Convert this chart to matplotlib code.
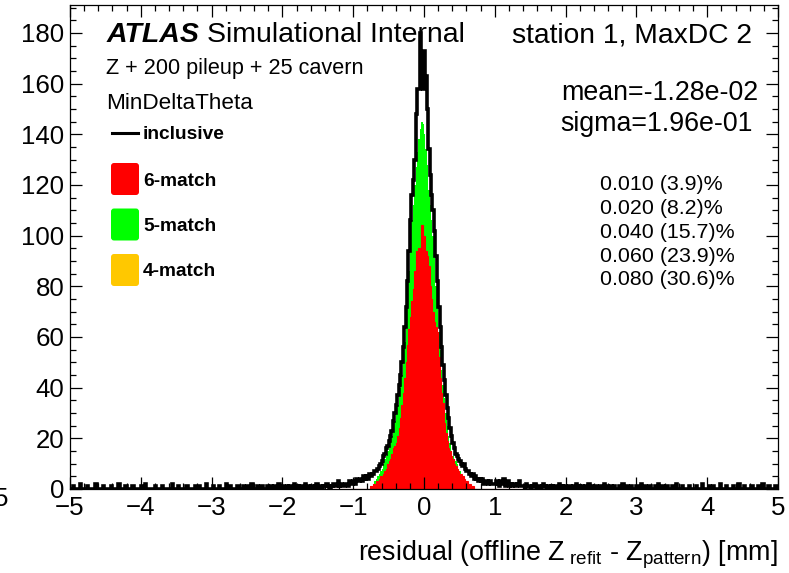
import numpy as np
import matplotlib as mpl
import matplotlib.pyplot as plt
from matplotlib.patches import FancyBboxPatch
from matplotlib.lines import Line2D
from matplotlib.ticker import MultipleLocator

mpl.use("Agg")

W, H = 789, 573  # output size in pixels (dpi 100)

RED = "#ff0000"
GREEN = "#00ff00"
ORANGE = "#ffc800"

# bin edges: 0.02 mm bins over [-5, 5], core region [-1, 1]
edges_full = np.linspace(-5.0, 5.0, 501)
edges_core = np.linspace(-1.0, 1.0, 101)

# inclusive counts, tails (-5..-1) and (1..5)
incl_left_tail = [
    0, 0, 1, 0, 0, 0, 0, 2, 0, 0, 0, 0, 1, 0, 0, 0, 0, 0, 2, 0,
    0, 0, 0, 1, 0, 0, 0, 0, 0, 1, 0, 0, 0, 0, 2, 0, 0, 0, 0, 1,
    0, 0, 0, 0, 1, 0, 0, 0, 0, 0, 1, 0, 0, 2, 0, 0, 0, 0, 0, 0,
    1, 0, 0, 0, 0, 1, 0, 0, 0, 0, 0, 0, 2, 0, 0, 0, 1, 0, 0, 0,
    0, 0, 1, 0, 0, 0, 0, 0, 1, 0, 0, 1, 0, 0, 0, 0, 2, 0, 0, 0,
    0, 1, 0, 0, 0, 1, 0, 0, 0, 0, 2, 0, 0, 1, 0, 0, 0, 0, 1, 0,
    0, 0, 1, 0, 0, 1, 0, 0, 2, 0, 0, 0, 1, 0, 0, 1, 0, 0, 0, 1,
    0, 0, 1, 0, 1, 0, 0, 2, 0, 0, 1, 0, 0, 1, 0, 1, 0, 0, 2, 1,
    0, 1, 0, 1, 1, 0, 2, 0, 1, 0, 1, 1, 0, 1, 2, 0, 1, 1, 0, 1,
    1, 2, 1, 0, 1, 1, 2, 1, 1, 3, 1, 2, 1, 1, 2, 2, 1, 3, 2, 2,
]
incl_right_tail = [
    2, 3, 2, 1, 3, 2, 4, 1, 2, 3, 1, 2, 1, 2, 1, 1, 2, 3, 1, 1,
    1, 0, 2, 1, 1, 0, 1, 1, 2, 0, 1, 1, 0, 1, 2, 1, 0, 1, 1, 0,
    1, 0, 1, 1, 0, 2, 0, 1, 0, 1, 0, 0, 1, 1, 0, 1, 0, 2, 0, 1,
    0, 1, 0, 0, 1, 0, 2, 0, 1, 0, 0, 1, 0, 0, 1, 0, 0, 2, 0, 1,
    0, 0, 1, 0, 1, 0, 0, 0, 1, 0, 2, 0, 0, 1, 0, 0, 1, 0, 0, 0,
    1, 0, 0, 2, 0, 0, 1, 0, 0, 1, 0, 0, 0, 1, 0, 2, 0, 0, 1, 0,
    0, 1, 0, 0, 0, 1, 0, 0, 2, 0, 0, 0, 1, 0, 0, 0, 0, 1, 0, 0,
    0, 0, 1, 0, 0, 0, 2, 0, 0, 0, 0, 1, 0, 0, 1, 0, 0, 0, 0, 2,
    0, 0, 0, 1, 0, 0, 0, 0, 1, 0, 0, 0, 2, 0, 0, 0, 1, 0, 0, 0,
    0, 1, 0, 0, 0, 0, 1, 0, 0, 2, 0, 0, 0, 1, 0, 0, 0, 0, 1, 0,
]
# inclusive counts in [-1, 1]
incl_core = [
    3, 2, 4, 3, 3, 4, 3, 5, 4, 5,
    4, 6, 5, 6, 6, 7, 7, 8, 9, 10,
    11, 13, 14, 16, 17, 19, 21, 23, 27, 30,
    33, 37, 41, 45, 50, 56, 64, 72, 82, 94,
    106, 116, 122, 130, 148, 158, 158, 180, 160, 158,
    173, 163, 150, 134, 124, 116, 110, 102, 92, 82,
    72, 64, 56, 49, 43, 37, 32, 28, 24, 21,
    18, 16, 14, 13, 12, 11, 10, 9, 10, 8,
    7, 7, 6, 5, 6, 4, 5, 4, 3, 4,
    3, 4, 2, 3, 3, 2, 3, 2, 2, 2,
]
# 6-match counts in [-1, 1]
match6_core = [
    0, 0, 0, 0, 0, 0, 0, 0, 0, 0,
    0, 0, 1, 1, 2, 2, 3, 3, 4, 5,
    5, 6, 7, 8, 10, 11, 12, 14, 16, 17,
    18, 21, 24, 28, 33, 38, 44, 50, 57, 63,
    68, 74, 79, 86, 94, 93, 95, 92, 104, 96,
    100, 94, 92, 88, 80, 75, 70, 66, 64, 62,
    52, 44, 38, 34, 26, 22, 19, 16, 15, 13,
    12, 10, 9, 8, 7, 6, 6, 5, 4, 3,
    3, 2, 2, 1, 1, 0, 0, 0, 0, 0,
    0, 0, 0, 0, 0, 0, 0, 0, 0, 0,
]
# 5-match counts in [-1, 1]
match5_core = [
    0, 0, 0, 0, 0, 0, 0, 0, 0, 0,
    0, 0, 0, 0, 0, 1, 1, 2, 2, 2,
    3, 4, 5, 5, 5, 6, 7, 7, 8, 10,
    12, 12, 13, 12, 12, 13, 14, 16, 18, 23,
    30, 32, 33, 34, 33, 40, 43, 50, 41, 48,
    40, 40, 36, 30, 32, 31, 30, 26, 16, 10,
    10, 11, 9, 7, 10, 8, 6, 5, 3, 2,
    1, 2, 2, 2, 1, 1, 0, 0, 0, 0,
    0, 0, 0, 0, 0, 0, 0, 0, 0, 0,
    0, 0, 0, 0, 0, 0, 0, 0, 0, 0,
]

header = "station 1, MaxDC 2"
sample_text = "Z + 200 pileup + 25 cavern"
method_text = "MinDeltaTheta"
fit_mean = "-1.28e-02"
fit_sigma = "1.96e-01"
window_cuts = ["0.010", "0.020", "0.040", "0.060", "0.080"]
window_fracs = ["3.9", "8.2", "15.7", "23.9", "30.6"]
legend_labels = ["6-match", "5-match", "4-match"]
legend_colors = [RED, GREEN, ORANGE]


def px(x, y):
    # pixel position (from top-left) -> inches for fig.dpi_scale_trans
    return x / 100.0, (H - y) / 100.0


def put_text(fig, x, y, s, **kw):
    kw.setdefault("va", "center_baseline")
    return fig.text(*px(x, y), s, transform=fig.dpi_scale_trans, **kw)


plt.rcParams["font.family"] = ["Liberation Sans", "DejaVu Sans"]
plt.rcParams["mathtext.default"] = "regular"

fig = plt.figure(figsize=(W / 100, H / 100), dpi=100)
ax = fig.add_axes([70 / W, (H - 489) / H, (778 - 70) / W, (489 - 5) / H])

incl = np.array(incl_left_tail + incl_core + incl_right_tail, dtype=float)
m6 = np.array(match6_core, dtype=float)
m5 = np.array(match5_core, dtype=float)
pad = np.zeros(200)

# stacked fills, inclusive outline on top
ax.stairs(m6 + m5, edges_core, fill=True, color=GREEN, lw=0)
ax.stairs(np.concatenate([pad, m6, pad]), edges_full, fill=True,
          color=RED, lw=0)
ax.stairs(np.concatenate([pad, m6, pad]), edges_full, color=RED, lw=0.8)
ax.stairs(incl, edges_full, color="black", lw=2.6)

ax.set_xlim(-5, 5)
ax.set_ylim(0, 191)
ax.xaxis.set_major_locator(MultipleLocator(1))
ax.xaxis.set_minor_locator(MultipleLocator(0.2))
ax.yaxis.set_major_locator(MultipleLocator(20))
ax.yaxis.set_minor_locator(MultipleLocator(5))
ax.tick_params(which="both", direction="in", top=True, right=True,
               width=0.9, labelsize=18.6, colors="black")
ax.tick_params(which="major", length=8.6)
ax.tick_params(which="minor", length=4.3)
ax.tick_params(axis="y", pad=4)
ax.tick_params(axis="x", pad=5)
for sp in ax.spines.values():
    sp.set_linewidth(0.9)

put_text(fig, 778, 550,
         r"residual (offline Z$_{\;\mathregular{refit}}$ - "
         r"Z$_{\mathregular{pattern}}$) [mm]",
         fontsize=19.4, ha="right")

# ATLAS label and sample info
put_text(fig, 107, 32, "ATLAS", fontsize=20.5, fontweight="bold",
         style="italic")
put_text(fig, 207, 32, "Simulational Internal", fontsize=20.5)
put_text(fig, 106, 66, sample_text, fontsize=15.6)
put_text(fig, 106, 101, method_text, fontsize=16.2)

# legend
fig.add_artist(Line2D([px(112, 0)[0], px(138, 0)[0]],
                      [px(0, 133)[1]] * 2, color="black", lw=2.2,
                      transform=fig.dpi_scale_trans))
put_text(fig, 143, 133, "inclusive", fontsize=13.8, fontweight="bold")
for i, (lab, col) in enumerate(zip(legend_labels, legend_colors)):
    yc = 179 + 45.5 * i
    x0, y0 = px(111, yc + 16)
    fig.add_artist(FancyBboxPatch((x0, y0), 0.28, 0.32,
                                  boxstyle="round,pad=0,rounding_size=0.03",
                                  fc=col, ec="none",
                                  transform=fig.dpi_scale_trans))
    put_text(fig, 143, yc, lab, fontsize=13.8, fontweight="bold")

# fit summary
put_text(fig, 752, 33, header, fontsize=20.3, ha="right")
put_text(fig, 758, 90, f"mean={fit_mean}", fontsize=19.3, ha="right")
put_text(fig, 753, 121, f"sigma={fit_sigma}", fontsize=19.3, ha="right")
for i, (cut, frac) in enumerate(zip(window_cuts, window_fracs)):
    put_text(fig, 600, 183 + 23.7 * i, f"{cut} ({frac})%", fontsize=15.4)

# clipped label remnant at the left edge
put_text(fig, 8, 497, "5", fontsize=18.6, ha="right")

fig.savefig("out.png", dpi=100)
plt.close(fig)
